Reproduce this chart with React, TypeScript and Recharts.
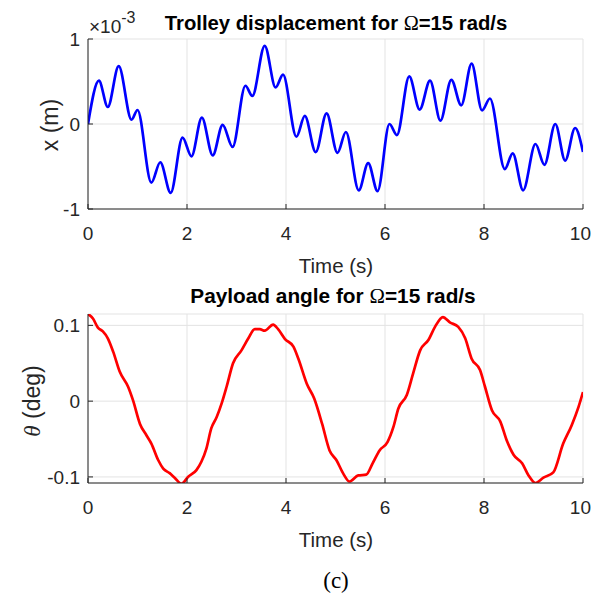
import React from 'react';
import { LineChart, Line, XAxis, YAxis, CartesianGrid } from 'recharts';

// trolley displacement, values in units of 1e-3 m
const topTime = [0, 0.22, 0.4, 0.62, 0.88, 1.0, 1.28, 1.46, 1.67, 1.91, 2.09, 2.3, 2.52, 2.72, 2.92, 3.18, 3.32, 3.57, 3.79, 3.94, 4.21, 4.38, 4.6, 4.82, 5.04, 5.21, 5.47, 5.66, 5.85, 6.09, 6.24, 6.49, 6.7, 6.91, 7.12, 7.34, 7.54, 7.75, 7.96, 8.12, 8.42, 8.58, 8.79, 9.04, 9.22, 9.44, 9.64, 9.84, 10.0];
const topDisp = [0, 0.51, 0.2, 0.68, 0.05, 0.165, -0.69, -0.45, -0.81, -0.16, -0.38, 0.075, -0.37, -0.01, -0.27, 0.45, 0.33, 0.92, 0.43, 0.58, -0.15, 0.095, -0.33, 0.125, -0.34, -0.094, -0.78, -0.46, -0.79, 0.0, -0.13, 0.56, 0.17, 0.51, 0.04, 0.52, 0.22, 0.71, 0.16, 0.3, -0.53, -0.345, -0.78, -0.235, -0.48, 0.0, -0.43, -0.047, -0.33];

// payload angle, deg
const botTime = [0, 0.1, 0.2, 0.3, 0.4, 0.51, 0.64, 0.81, 0.91, 1.05, 1.18, 1.28, 1.42, 1.52, 1.65, 1.75, 1.89, 2.02, 2.19, 2.29, 2.39, 2.49, 2.6, 2.7, 2.8, 2.93, 3.1, 3.24, 3.37, 3.47, 3.57, 3.74, 3.84, 3.98, 4.15, 4.25, 4.42, 4.57, 4.73, 4.88, 5.02, 5.16, 5.28, 5.46, 5.62, 5.75, 5.89, 6.05, 6.17, 6.27, 6.44, 6.57, 6.71, 6.88, 7.01, 7.17, 7.31, 7.48, 7.62, 7.75, 7.92, 8.02, 8.16, 8.33, 8.46, 8.6, 8.77, 8.9, 9.04, 9.2, 9.4, 9.6, 9.77, 9.91, 10.0];
const botAngle = [0.115, 0.109, 0.097, 0.092, 0.083, 0.065, 0.039, 0.019, 0.001, -0.03, -0.045, -0.056, -0.078, -0.089, -0.095, -0.101, -0.109, -0.1, -0.091, -0.08, -0.063, -0.036, -0.021, -0.003, 0.019, 0.05, 0.067, 0.083, 0.095, 0.095, 0.093, 0.101, 0.095, 0.082, 0.072, 0.056, 0.023, 0.0035, -0.03, -0.065, -0.078, -0.096, -0.106, -0.098, -0.097, -0.082, -0.065, -0.054, -0.034, -0.0097, 0.008, 0.037, 0.067, 0.081, 0.098, 0.111, 0.104, 0.098, 0.083, 0.056, 0.041, 0.019, -0.012, -0.027, -0.052, -0.071, -0.082, -0.098, -0.108, -0.101, -0.094, -0.056, -0.032, -0.0075, 0.012];

const timeTicks = [0, 2, 4, 6, 8, 10];
const dispTicks = [-1, 0, 1];
const angleTicks = [-0.1, 0, 0.1];

const topData = topTime.map((t, i) => ({ t, x: topDisp[i] }));
const botData = botTime.map((t, i) => ({ t, theta: botAngle[i] }));

const FONT = '"Liberation Sans", Arial, sans-serif';
const SERIF = '"Liberation Serif", serif';
const AX = '#262626';
const tickStyle = { fill: AX, fontSize: 19, fontFamily: FONT };

// keeps the "10" label inside the page edge
function TimeTick(p: any) {
    const last = p.payload.value === timeTicks[timeTicks.length - 1];
    return (
        <text
            x={last ? 591 : p.x}
            y={p.y}
            dy="0.71em"
            textAnchor={last ? 'end' : 'middle'}
            fill={AX}
            fontSize={19}
            fontFamily={FONT}
        >
            {p.payload.value}
        </text>
    );
}

function Panel(props: {
    data: any[];
    dataKey: string;
    color: string;
    yDomain: number[];
    yTicks: number[];
    top: number;
    height: number;
    marginTop: number;
    xAxisHeight: number;
}) {
    const { data, dataKey, color, yDomain, yTicks, top, height, marginTop, xAxisHeight } = props;
    return (
        <div style={{ position: 'absolute', left: 0, top }}>
            <LineChart width={592} height={height} data={data} margin={{ top: marginTop, right: 9, left: 0, bottom: 0 }}>
                <CartesianGrid stroke="#e3e3e3" strokeWidth={1} />
                <XAxis
                    type="number"
                    dataKey="t"
                    domain={[0, 10]}
                    ticks={timeTicks}
                    interval={0}
                    allowDataOverflow
                    height={xAxisHeight}
                    stroke={AX}
                    tickSize={-5}
                    tickMargin={23}
                    tick={<TimeTick />}
                />
                <XAxis
                    xAxisId="top"
                    orientation="top"
                    type="number"
                    dataKey="t"
                    domain={[0, 10]}
                    ticks={timeTicks}
                    interval={0}
                    height={0}
                    stroke={AX}
                    tickSize={-5}
                    tick={false}
                />
                <YAxis
                    type="number"
                    domain={yDomain}
                    ticks={yTicks}
                    interval={0}
                    allowDataOverflow
                    width={88}
                    stroke={AX}
                    tickSize={-5}
                    tickMargin={13}
                    tick={tickStyle}
                />
                <YAxis
                    yAxisId="right"
                    orientation="right"
                    type="number"
                    domain={yDomain}
                    ticks={yTicks}
                    interval={0}
                    width={0}
                    stroke={AX}
                    tickSize={-5}
                    tick={false}
                />
                <Line
                    type="monotone"
                    dataKey={dataKey}
                    stroke={color}
                    strokeWidth={2.7}
                    dot={false}
                    isAnimationActive={false}
                />
            </LineChart>
        </div>
    );
}

export default function App() {
    return (
        <div style={{ position: 'absolute', left: 0, top: 0, width: 592, height: 599, background: '#fff' }}>
            <Panel
                data={topData}
                dataKey="x"
                color="#0000ff"
                yDomain={[-1, 1]}
                yTicks={dispTicks}
                top={0}
                height={260}
                marginTop={39}
                xAxisHeight={51}
            />
            <Panel
                data={botData}
                dataKey="theta"
                color="#ff0000"
                yDomain={[-0.108, 0.115]}
                yTicks={angleTicks}
                top={270}
                height={270}
                marginTop={44}
                xAxisHeight={57}
            />
            <svg width={592} height={599} style={{ position: 'absolute', left: 0, top: 0, pointerEvents: 'none' }}>
                <text x={89} y={33} fill={AX} fontFamily={FONT} fontSize={19}>
                    ×10<tspan dy={-10} fontSize={16}>-3</tspan>
                </text>
                <text x={336} y={30} textAnchor="middle" fill="#000" fontFamily={FONT} fontSize={20.3} fontWeight="bold">
                    Trolley displacement for <tspan fontFamily={SERIF} fontWeight="normal">Ω</tspan>=15 rad/s
                </text>
                <text x={333} y={303} textAnchor="middle" fill="#000" fontFamily={FONT} fontSize={20.8} fontWeight="bold">
                    Payload angle for <tspan fontFamily={SERIF} fontWeight="normal">Ω</tspan>=15 rad/s
                </text>
                <text x={336} y={273} textAnchor="middle" fill={AX} fontFamily={FONT} fontSize={20.5}>
                    Time (s)
                </text>
                <text x={336} y={547} textAnchor="middle" fill={AX} fontFamily={FONT} fontSize={20.5}>
                    Time (s)
                </text>
                <text transform="translate(58,125) rotate(-90)" textAnchor="middle" fill={AX} fontFamily={FONT} fontSize={23}>
                    x (m)
                </text>
                <text transform="translate(40,401) rotate(-90)" textAnchor="middle" fill={AX} fontFamily={FONT} fontSize={23}>
                    <tspan fontFamily={SERIF} fontStyle="italic">θ</tspan> (deg)
                </text>
                <text x={336} y={588} textAnchor="middle" fill="#000" fontFamily={SERIF} fontSize={23}>
                    (c)
                </text>
            </svg>
        </div>
    );
}
